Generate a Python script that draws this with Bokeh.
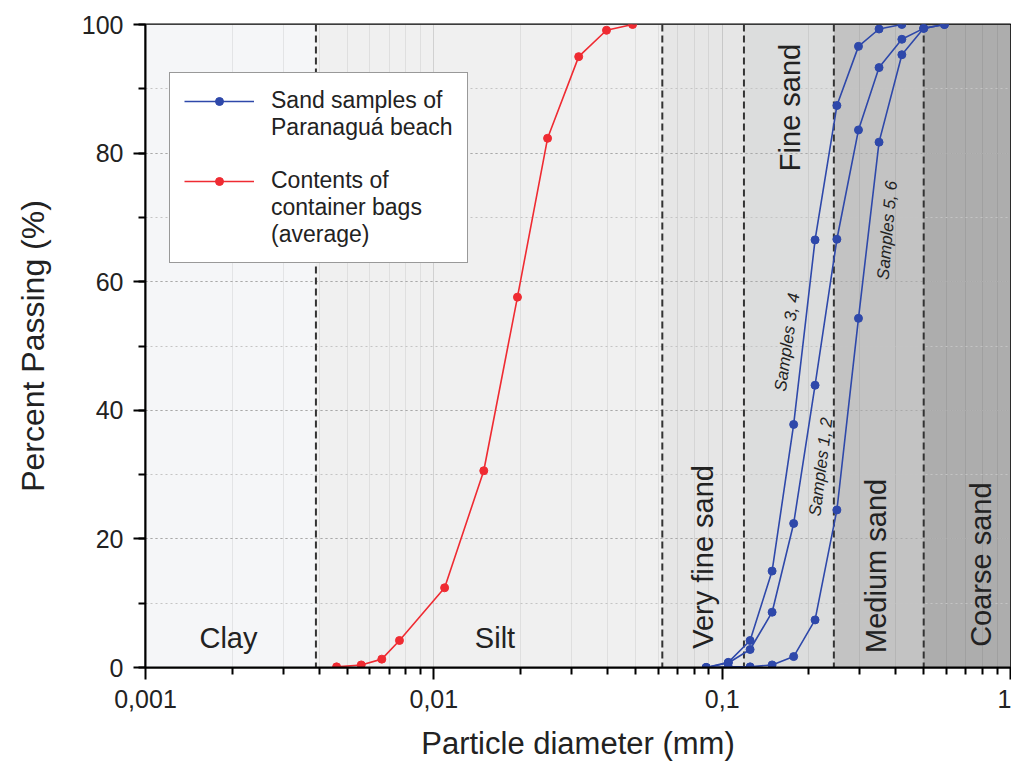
import math
from bokeh.plotting import figure
from bokeh.models import (ColumnDataSource, Span, Legend, LegendItem, CustomJSTickFormatter,
                          SingleIntervalTicker, FixedTicker)
from bokeh.embed import file_html
from bokeh.resources import INLINE
from bokeh.core.properties import value

FONT = "Liberation Sans"

# ---------------- data ----------------
# contents of container bags (average)
bag_diam = [0.0046, 0.0056, 0.0066, 0.0076, 0.0109, 0.0149, 0.0195, 0.0248, 0.0318, 0.0397, 0.0489]
bag_pass = [0.1, 0.4, 1.3, 4.2, 12.4, 30.6, 57.6, 82.3, 95.0, 99.1, 100.0]

# sand samples of Paranaguá beach (sieve sizes, mm)
sieve_diam = [0.088, 0.105, 0.125, 0.149, 0.177, 0.21, 0.25, 0.297, 0.35, 0.42, 0.5, 0.59]
samples_34 = [0.0, 0.8, 4.2, 15.0, 37.8, 66.5, 87.4, 96.6, 99.3, 100.0]
samples_12 = [0.0, 0.7, 2.8, 8.6, 22.4, 43.9, 66.6, 83.6, 93.3, 97.7, 99.4, 100.0]
samples_56 = [0.0, 0.1, 0.1, 0.4, 1.7, 7.4, 24.5, 54.3, 81.7, 95.3, 99.4, 100.0]

sample_labels = ["Samples 3, 4", "Samples 1, 2", "Samples 5, 6"]
sample_label_x = [0.168, 0.22, 0.374]
sample_label_y = [50.6, 31.2, 68.0]
sample_label_angle_deg = [82, 83, 85]

# grain size classes
band_names = ["Clay", "Silt", "Very fine sand", "Fine sand", "Medium sand", "Coarse sand"]
band_lo = [0.001, 0.0039, 0.062, 0.119, 0.244, 0.5]
band_hi = [0.0039, 0.062, 0.119, 0.244, 0.5, 1.0]
band_colors = ["#f5f6f8", "#f0f0f0", "#e6e6e6", "#dcdddd", "#c3c3c3", "#adadad"]
band_label_x = [0.00194, 0.0163, 0.086, 0.172, 0.341, 0.787]
band_label_y = [4.66, 4.66, 17.2, 87.1, 15.8, 16.0]
band_label_angle_deg = [0, 0, 90, 90, 90, 90]

x_major = [0.001, 0.01, 0.1, 1]
y_interval = 20

legend_lines = ["Sand samples of", "Paranaguá beach", " ", "Contents of", "container bags", "(average)"]

BLUE = "#2e48aa"
RED = "#ef2b32"

# ---------------- figure ----------------
p = figure(width=1011, height=763, x_axis_type="log", x_range=(0.001, 1), y_range=(0, 100),
           output_backend="svg", toolbar_location=None,
           min_border_left=145, min_border_right=1, min_border_top=24, min_border_bottom=95)
p.background_fill_color = "white"
p.border_fill_color = "white"
p.outline_line_color = "black"
p.outline_line_width = 2

# class bands
p.quad(left=band_lo, right=band_hi, bottom=0, top=100, fill_color=band_colors,
       line_color=None, level="image")

# grids
p.xgrid.grid_line_color = "black"
p.xgrid.grid_line_alpha = 0.13
p.xgrid.minor_grid_line_color = "black"
p.xgrid.minor_grid_line_alpha = 0.07
p.ygrid.grid_line_color = "#a8a8a8"
p.ygrid.grid_line_dash = "2 3"
p.ygrid.minor_grid_line_color = "#c4c4c4"
p.ygrid.minor_grid_line_dash = "2 3"

# class boundaries
for b in band_lo[1:]:
    p.add_layout(Span(location=b, dimension="height", line_color="#333333",
                      line_dash="7 4", line_width=2, level="underlay"))

# curves
bl = p.line(sieve_diam[:len(samples_34)], samples_34, line_color=BLUE, line_width=1.6)
bs = p.scatter(sieve_diam[:len(samples_34)], samples_34, size=8, fill_color=BLUE, line_color=BLUE)
p.line(sieve_diam, samples_12, line_color=BLUE, line_width=1.6)
p.scatter(sieve_diam, samples_12, size=8, fill_color=BLUE, line_color=BLUE)
p.line(sieve_diam, samples_56, line_color=BLUE, line_width=1.6)
p.scatter(sieve_diam, samples_56, size=8, fill_color=BLUE, line_color=BLUE)

rl = p.line(bag_diam, bag_pass, line_color=RED, line_width=1.6)
rs = p.scatter(bag_diam, bag_pass, size=8, fill_color=RED, line_color=RED)

# class labels
band_src = ColumnDataSource(dict(x=band_label_x, y=band_label_y, t=band_names,
                                 a=[math.radians(d) for d in band_label_angle_deg]))
p.text(x="x", y="y", text="t", angle="a", source=band_src, text_font=value(FONT),
       text_font_size="29px", text_color="#222222", text_align="center", text_baseline="middle")

sample_src = ColumnDataSource(dict(x=sample_label_x, y=sample_label_y, t=sample_labels,
                                   a=[math.radians(d) for d in sample_label_angle_deg]))
p.text(x="x", y="y", text="t", angle="a", source=sample_src, text_font=value(FONT),
       text_font_size="17px", text_font_style="italic", text_color="#222222",
       text_align="center", text_baseline="middle")

# axes
p.xaxis.ticker = FixedTicker(ticks=x_major,
                             minor_ticks=[m * 10.0 ** e for e in (-3, -2, -1) for m in range(2, 10)])
p.xaxis.formatter = CustomJSTickFormatter(
    code="return Number(tick.toPrecision(3)).toString().replace('.', ',');")
p.yaxis.ticker = SingleIntervalTicker(interval=y_interval, num_minor_ticks=2)
p.xaxis.axis_label = "Particle diameter (mm)"
p.yaxis.axis_label = "Percent Passing (%)"
for ax in (p.xaxis[0], p.yaxis[0]):
    ax.axis_line_width = 2
    ax.axis_line_color = "black"
    ax.major_tick_line_width = 2
    ax.minor_tick_line_width = 2
    ax.major_tick_in = 0
    ax.major_tick_out = 12
    ax.minor_tick_in = 0
    ax.minor_tick_out = 7
    ax.major_label_text_font = FONT
    ax.major_label_text_font_size = "25px"
    ax.major_label_text_color = "#222222"
    ax.major_label_standoff = 10
    ax.axis_label_text_font = FONT
    ax.axis_label_text_font_style = "normal"
    ax.axis_label_text_color = "#222222"
p.xaxis.axis_label_text_font_size = "31px"
p.yaxis.axis_label_text_font_size = "32px"
p.yaxis.axis_label_standoff = 28
p.xaxis.axis_label_standoff = 15

# legend: one row per text line, glyph on the first line of each entry
legend = Legend(items=[
    LegendItem(label=legend_lines[0], renderers=[bl, bs]),
    LegendItem(label=legend_lines[1], renderers=[]),
    LegendItem(label=legend_lines[2], renderers=[]),
    LegendItem(label=legend_lines[3], renderers=[rl, rs]),
    LegendItem(label=legend_lines[4], renderers=[]),
    LegendItem(label=legend_lines[5], renderers=[]),
], location=(24, 404))
legend.label_text_font = FONT
legend.label_text_font_size = "23px"
legend.label_text_color = "#222222"
legend.glyph_width = 70
legend.glyph_height = 20
legend.label_height = 26
legend.label_standoff = 17
legend.padding = 14
legend.spacing = 0
legend.border_line_color = "#333333"
legend.border_line_width = 1
legend.background_fill_alpha = 1
p.add_layout(legend)

open("out.html", "w").write(file_html(p, INLINE))
